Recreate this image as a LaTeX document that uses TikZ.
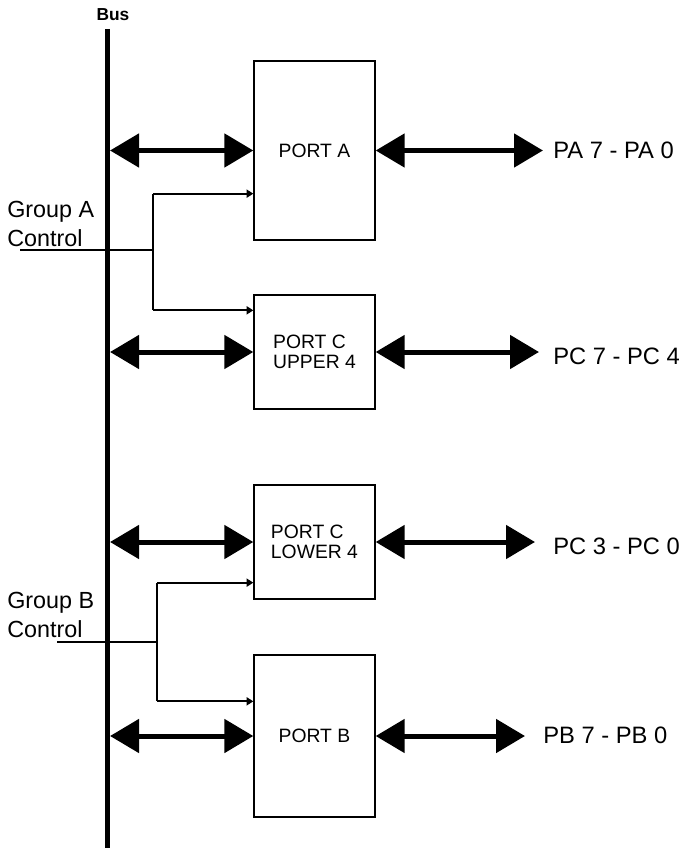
\documentclass[tikz,border=0pt]{standalone}
\usepackage{fontspec}
\setmainfont{Liberation Sans}
\usetikzlibrary{arrows.meta, positioning, calc}

\begin{document}
\begin{tikzpicture}[
    x=0.75pt, y=-0.75pt,
    port/.style={draw, line width=1pt, minimum width=90.75pt, inner sep=0pt, align=left, font=\fontsize{14.5}{15}\selectfont},
    pinlabel/.style={anchor=west, inner sep=0pt, font=\fontsize{17.8}{20}\selectfont},
    grouplabel/.style={anchor=north west, inner sep=0pt, align=left, font=\fontsize{17.5}{21.5}\selectfont},
    busline/.style={line width=4.2pt},
    dataarrow/.style={{Triangle[length=21.75pt,width=24.75pt]}-{Triangle[length=21.75pt,width=24.75pt]}, line width=3.75pt},
    ctrlarrow/.style={-{Triangle[length=5pt,width=6pt]}, line width=1.5pt},
    ctrlline/.style={line width=1.5pt},
    ctrlthin/.style={line width=0.8pt}
]
    \useasboundingbox (0,0) rectangle (688,848);

    % Bus
    \coordinate (bustop) at (107.5,29);
    \coordinate (busbot) at (107.5,848);
    \draw[busline] (bustop) -- (busbot);
    \node[anchor=base, inner sep=0pt, font=\fontsize{13}{15}\bfseries] (buslabel) at (113,21) {Bus};

    % Ports
    \node[port, minimum height=134.25pt] (porta) at (314.5,150.5) {PORT A};
    \node[port, minimum height=85.5pt] (portcu) at (314.5,352) {PORT C\\UPPER 4};
    \node[port, minimum height=85.5pt] (portcl) at (314.5,542) {PORT C\\LOWER 4};
    \node[port, minimum height=121.5pt] (portb) at (314.5,736) {PORT B};

    % Pins
    \node[pinlabel] (pa) at (553,150) {PA 7 - PA 0};
    \node[pinlabel] (pcu) at (553,356) {PC 7 - PC 4};
    \node[pinlabel] (pcl) at (553,546) {PC 3 - PC 0};
    \node[pinlabel] (pb) at (543,735) {PB 7 - PB 0};

    % Group labels
    \node[grouplabel] (groupa) at (7,201) {Group A\\Control};
    \node[grouplabel] (groupb) at (7,592) {Group B\\Control};

    % Bus <-> ports
    \draw[dataarrow, shorten <=1.9pt] (porta.west -| bustop) -- (porta.west);
    \draw[dataarrow, shorten <=1.9pt] (portcu.west -| bustop) -- (portcu.west);
    \draw[dataarrow, shorten <=1.9pt] (portcl.west -| bustop) -- (portcl.west);
    \draw[dataarrow, shorten <=1.9pt] (portb.west -| bustop) -- (portb.west);

    % Ports <-> pins
    \draw[dataarrow, shorten >=7.5pt] (porta.east) -- (porta.east -| pa.west);
    \draw[dataarrow, shorten >=10.5pt] (portcu.east) -- (portcu.east -| pcu.west);
    \draw[dataarrow, shorten >=13.5pt] (portcl.east) -- (portcl.east -| pcl.west);
    \draw[dataarrow, shorten >=13.5pt] (portb.east) -- (portb.east -| pb.west);

    % Group A control
    \coordinate (ctla) at (20,250);
    \coordinate (joina) at (153,250);
    \coordinate (ina) at ($(porta.south west)+(0,-47)$);
    \coordinate (incu) at ($(portcu.north west)+(0,16)$);
    \draw[ctrlline] (ctla) -- (joina);
    \draw[ctrlline] (ina -| joina) -- (incu -| joina);
    \draw[ctrlarrow] (ina -| joina) -- (ina);
    \draw[ctrlarrow] (incu -| joina) -- (incu);

    % Group B control
    \coordinate (ctlb) at (57,642);
    \coordinate (joinb) at (157,642);
    \coordinate (incl) at ($(portcl.south west)+(0,-17)$);
    \coordinate (inb) at ($(portb.north west)+(0,47)$);
    \draw[ctrlthin] (ctlb) -- (joinb);
    \draw[ctrlthin] (incl -| joinb) -- (inb -| joinb);
    \draw[ctrlarrow] (incl -| joinb) -- (incl);
    \draw[ctrlarrow] (inb -| joinb) -- (inb);
\end{tikzpicture}
\end{document}
